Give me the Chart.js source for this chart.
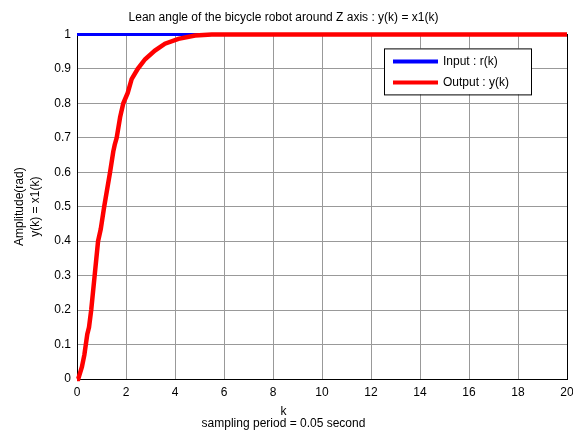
<!DOCTYPE html>
<html>
<head>
<meta charset="utf-8">
<script src="https://cdn.jsdelivr.net/npm/chart.js@4/dist/chart.umd.min.js"></script>
<style>
    html, body { margin: 0; padding: 0; background: #fff; }
    #wrap { width: 573px; height: 438px; }
</style>
</head>
<body>
<div id="wrap"><canvas id="chart" width="573" height="438"></canvas></div>
<script>
const titleText = 'Lean angle of the bicycle robot around Z axis : y(k) = x1(k)';
const xLabel = ['k', 'sampling period = 0.05 second'];
const yLabel = ['Amplitude(rad)', 'y(k) = x1(k)'];

// input r(k): unit step
const inputK = [0, 20];
const inputR = [1, 1];

// output y(k)
const outputK = [0, 0.05, 0.2, 0.3, 0.36, 0.42, 0.49, 0.58, 0.72, 0.86, 0.97, 1.11, 1.35, 1.48, 1.54, 1.62, 1.76, 1.89,
    2.07, 2.23, 2.48, 2.78, 3.18, 3.59, 4.14, 4.82, 5.5, 20];
const outputY = [0, 0, 0.035, 0.07, 0.10, 0.13, 0.15, 0.20, 0.30, 0.40, 0.435, 0.50, 0.60, 0.66, 0.68, 0.70, 0.76, 0.80,
    0.83, 0.87, 0.90, 0.928, 0.953, 0.973, 0.987, 0.997, 1, 1];

const font = { family: 'Liberation Sans, Arial, sans-serif', size: 12 };

const toPoints = (xs, ys) => xs.map((x, i) => ({ x, y: ys[i] }));

// black box around the axes, under the lines
const framePlugin = {
    id: 'frame',
    beforeDatasetsDraw(chart) {
        const { ctx, chartArea: a } = chart;
        ctx.save();
        ctx.strokeStyle = '#000';
        ctx.lineWidth = 1;
        ctx.strokeRect(Math.round(a.left) + 0.5, Math.round(a.top) + 0.5,
            Math.round(a.right - a.left), Math.round(a.bottom - a.top));
        ctx.restore();
    }
};

// legend box inside the plot, top right
const boxLegend = {
    id: 'boxLegend',
    afterDraw(chart) {
        const { ctx, chartArea: a } = chart;
        const w = 147, h = 46;
        const x0 = a.right - 36 - w, y0 = a.top + 14;
        ctx.save();
        ctx.fillStyle = '#fff';
        ctx.fillRect(x0, y0, w, h);
        ctx.strokeStyle = '#000';
        ctx.lineWidth = 1;
        ctx.strokeRect(x0 + 0.5, y0 + 0.5, w, h);
        ctx.font = `${font.size}px ${font.family}`;
        ctx.textBaseline = 'middle';
        ctx.fillStyle = '#000';
        chart.data.datasets.forEach((ds, i) => {
            const y = y0 + 13 + i * 21;
            ctx.strokeStyle = ds.borderColor;
            ctx.lineWidth = 4;
            ctx.beginPath();
            ctx.moveTo(x0 + 9, y);
            ctx.lineTo(x0 + 54, y);
            ctx.stroke();
            ctx.fillText(ds.label, x0 + 59, y);
        });
        ctx.restore();
    }
};

new Chart(document.getElementById('chart'), {
    type: 'line',
    data: {
        datasets: [{
            label: 'Input : r(k)',
            data: toPoints(inputK, inputR),
            borderColor: '#0000ff',
            borderWidth: 3,
            pointRadius: 0,
            clip: 4,
            order: 1
        }, {
            label: 'Output : y(k)',
            data: toPoints(outputK, outputY),
            borderColor: '#ff0000',
            borderWidth: 4.5,
            pointRadius: 0,
            clip: 4,
            order: 0
        }]
    },
    options: {
        responsive: false,
        animation: false,
        layout: { padding: { top: 0, right: 6, bottom: 0, left: 0 } },
        plugins: {
            legend: { display: false },
            tooltip: { enabled: false },
            title: {
                display: true,
                text: titleText,
                color: '#000',
                font: { ...font, weight: 'normal' },
                padding: { top: 10, bottom: 10 }
            },
            subtitle: {
                display: true,
                position: 'bottom',
                text: xLabel,
                color: '#000',
                font: { ...font, lineHeight: 1 },
                padding: { top: 0, bottom: 8 }
            }
        },
        scales: {
            x: {
                type: 'linear',
                min: 0,
                max: 20,
                afterFit: (s) => { s.height = 27; s.paddingRight = 0; },
                ticks: { stepSize: 2, color: '#000', font, padding: 6 },
                grid: { color: '#999', drawTicks: false },
                border: { display: false }
            },
            y: {
                min: 0,
                max: 1,
                afterFit: (s) => { s.width = 77; },
                ticks: {
                    stepSize: 0.1,
                    color: '#000',
                    font,
                    padding: 6,
                    callback: (v) => String(Math.round(v * 10) / 10)
                },
                grid: { color: '#999', drawTicks: false },
                border: { display: false },
                title: {
                    display: true,
                    text: yLabel,
                    color: '#000',
                    font: { ...font, lineHeight: 1.3 },
                    padding: { top: 12, bottom: 0 }
                }
            }
        }
    },
    plugins: [framePlugin, boxLegend]
});
</script>
</body>
</html>
